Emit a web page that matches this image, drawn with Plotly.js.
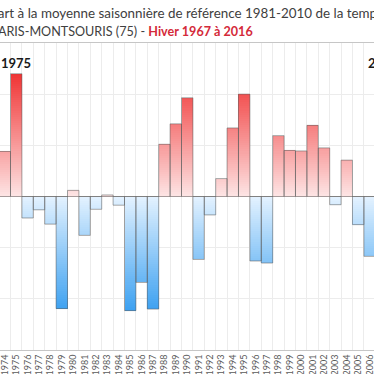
<!DOCTYPE html>
<html>
<head>
<meta charset="utf-8">
<script src="https://cdn.plot.ly/plotly-3.0.1.min.js"></script>
<style>
html,body{margin:0;padding:0;overflow:hidden;width:374px;height:374px;background:#fff;}
#chart{position:absolute;left:-40px;top:0;width:474px;height:420px;}
</style>
</head>
<body>
<div id="chart"></div>
<script>
// Winter seasons shown (Dec of previous year to Feb)
const seasonLabels = ["1973-1974","1974-1975","1975-1976","1976-1977","1977-1978","1978-1979","1979-1980",
  "1980-1981","1981-1982","1982-1983","1983-1984","1984-1985","1985-1986","1986-1987","1987-1988",
  "1988-1989","1989-1990","1990-1991","1991-1992","1992-1993","1993-1994","1994-1995","1995-1996",
  "1996-1997","1997-1998","1998-1999","1999-2000","2000-2001","2001-2002","2002-2003","2003-2004",
  "2004-2005","2005-2006"];
// Anomaly vs 1981-2010 winter mean (°C)
const anomalies = [0.88, 2.40, -0.42, -0.26, -0.54, -2.19, 0.12,
  -0.76, -0.25, 0.03, -0.17, -2.23, -1.68, -2.20, 1.02,
  1.42, 1.93, -1.23, -0.36, 0.35, 1.34, 2.00, -1.26,
  -1.30, 1.19, 0.90, 0.89, 1.39, 0.95, -0.16, 0.71,
  -0.55, -1.17];
const highlightLabels = ["1975", "2007"];
const highlightIndex = [1, 33];

function lerp(a, b, t){ return Math.round(a + (b - a) * t); }
function levelColor(level){
  if (level >= 0) {
    const t = Math.min(level / 2.4, 1);
    return `rgb(${lerp(253,240,t)},${lerp(228,52,t)},${lerp(228,52,t)})`;
  } else {
    const t = Math.min(-level / 2.3, 1);
    return `rgb(${lerp(228,55,t)},${lerp(242,158,t)},${lerp(255,240,t)})`;
  }
}

// gradient: each bar split into thin slices, coloured by level
const step = 0.04;
const gx = [], gbase = [], gy = [], gc = [];
seasonLabels.forEach((lab, i) => {
  const v = anomalies[i];
  const n = Math.ceil(Math.abs(v) / step);
  const sgn = v >= 0 ? 1 : -1;
  for (let k = 0; k < n; k++) {
    const b = sgn * k * step;
    const h = sgn * Math.min(step, Math.abs(v) - k * step);
    gx.push(lab); gbase.push(b); gy.push(h);
    gc.push(levelColor(b + h / 2));
  }
});

const traces = [
  {type:'bar', x:gx, y:gy, base:gbase, width:1,
   marker:{color:gc, line:{width:0}}, hoverinfo:'skip', showlegend:false},
  {type:'bar', x:seasonLabels, y:anomalies, width:1,
   marker:{color:'rgba(0,0,0,0)', line:{width:1, color:'rgba(95,95,95,0.55)'}},
   showlegend:false}
];

const font = "Lato, 'Open Sans', sans-serif";
const annotations = [
  {xref:'paper', yref:'paper', x:0, y:1, xanchor:'left', yanchor:'middle', xshift:-18.5, yshift:30.5,
   showarrow:false, text:"Écart à la moyenne saisonnière de référence 1981-2010 de la température moyenne",
   font:{family:font, size:13.4, color:'#404040'}},
  {xref:'paper', yref:'paper', x:0, y:1, xanchor:'left', yanchor:'middle', xshift:-11, yshift:11.5,
   showarrow:false, text:"PARIS-MONTSOURIS (75) - <b><span style='color:#d42a3a'>Hiver 1967 à 2016</span></b>",
   font:{family:font, size:12.6, color:'#404040'}}
];
highlightLabels.forEach((t, j) => {
  annotations.push({xref:'x', yref:'y', x:highlightIndex[j], y:2.61, yanchor:'middle', xshift: j ? 3 : 0,
    showarrow:false, text:'<b>' + t + '</b>', font:{family:font, size:13, color:'#1a1a1a'}});
});

const layout = {
  width:474, height:420,
  margin:{l:40, r:0, t:43.3, b:70.2, autoexpand:false},
  paper_bgcolor:'#fff', plot_bgcolor:'#fff',
  barmode:'overlay', bargap:0,
  xaxis:{type:'category', range:[-0.421, 37.65], tickson:'boundaries', showgrid:true,
    gridcolor:'#ececec', gridwidth:1, ticks:'', tickangle:-90,
    tickfont:{family:font, size:9, color:'#595959'},
    showline:true, mirror:true, linecolor:'#c6c6c6', linewidth:1, fixedrange:true},
  yaxis:{range:[-3,3], dtick:1, showgrid:true, gridcolor:'#ececec', showticklabels:false,
    zeroline:true, zerolinecolor:'#a8a8a8', zerolinewidth:1, ticks:'', fixedrange:true},
  annotations: annotations
};

Plotly.newPlot('chart', traces, layout, {displayModeBar:false, staticPlot:true});
</script>
</body>
</html>
